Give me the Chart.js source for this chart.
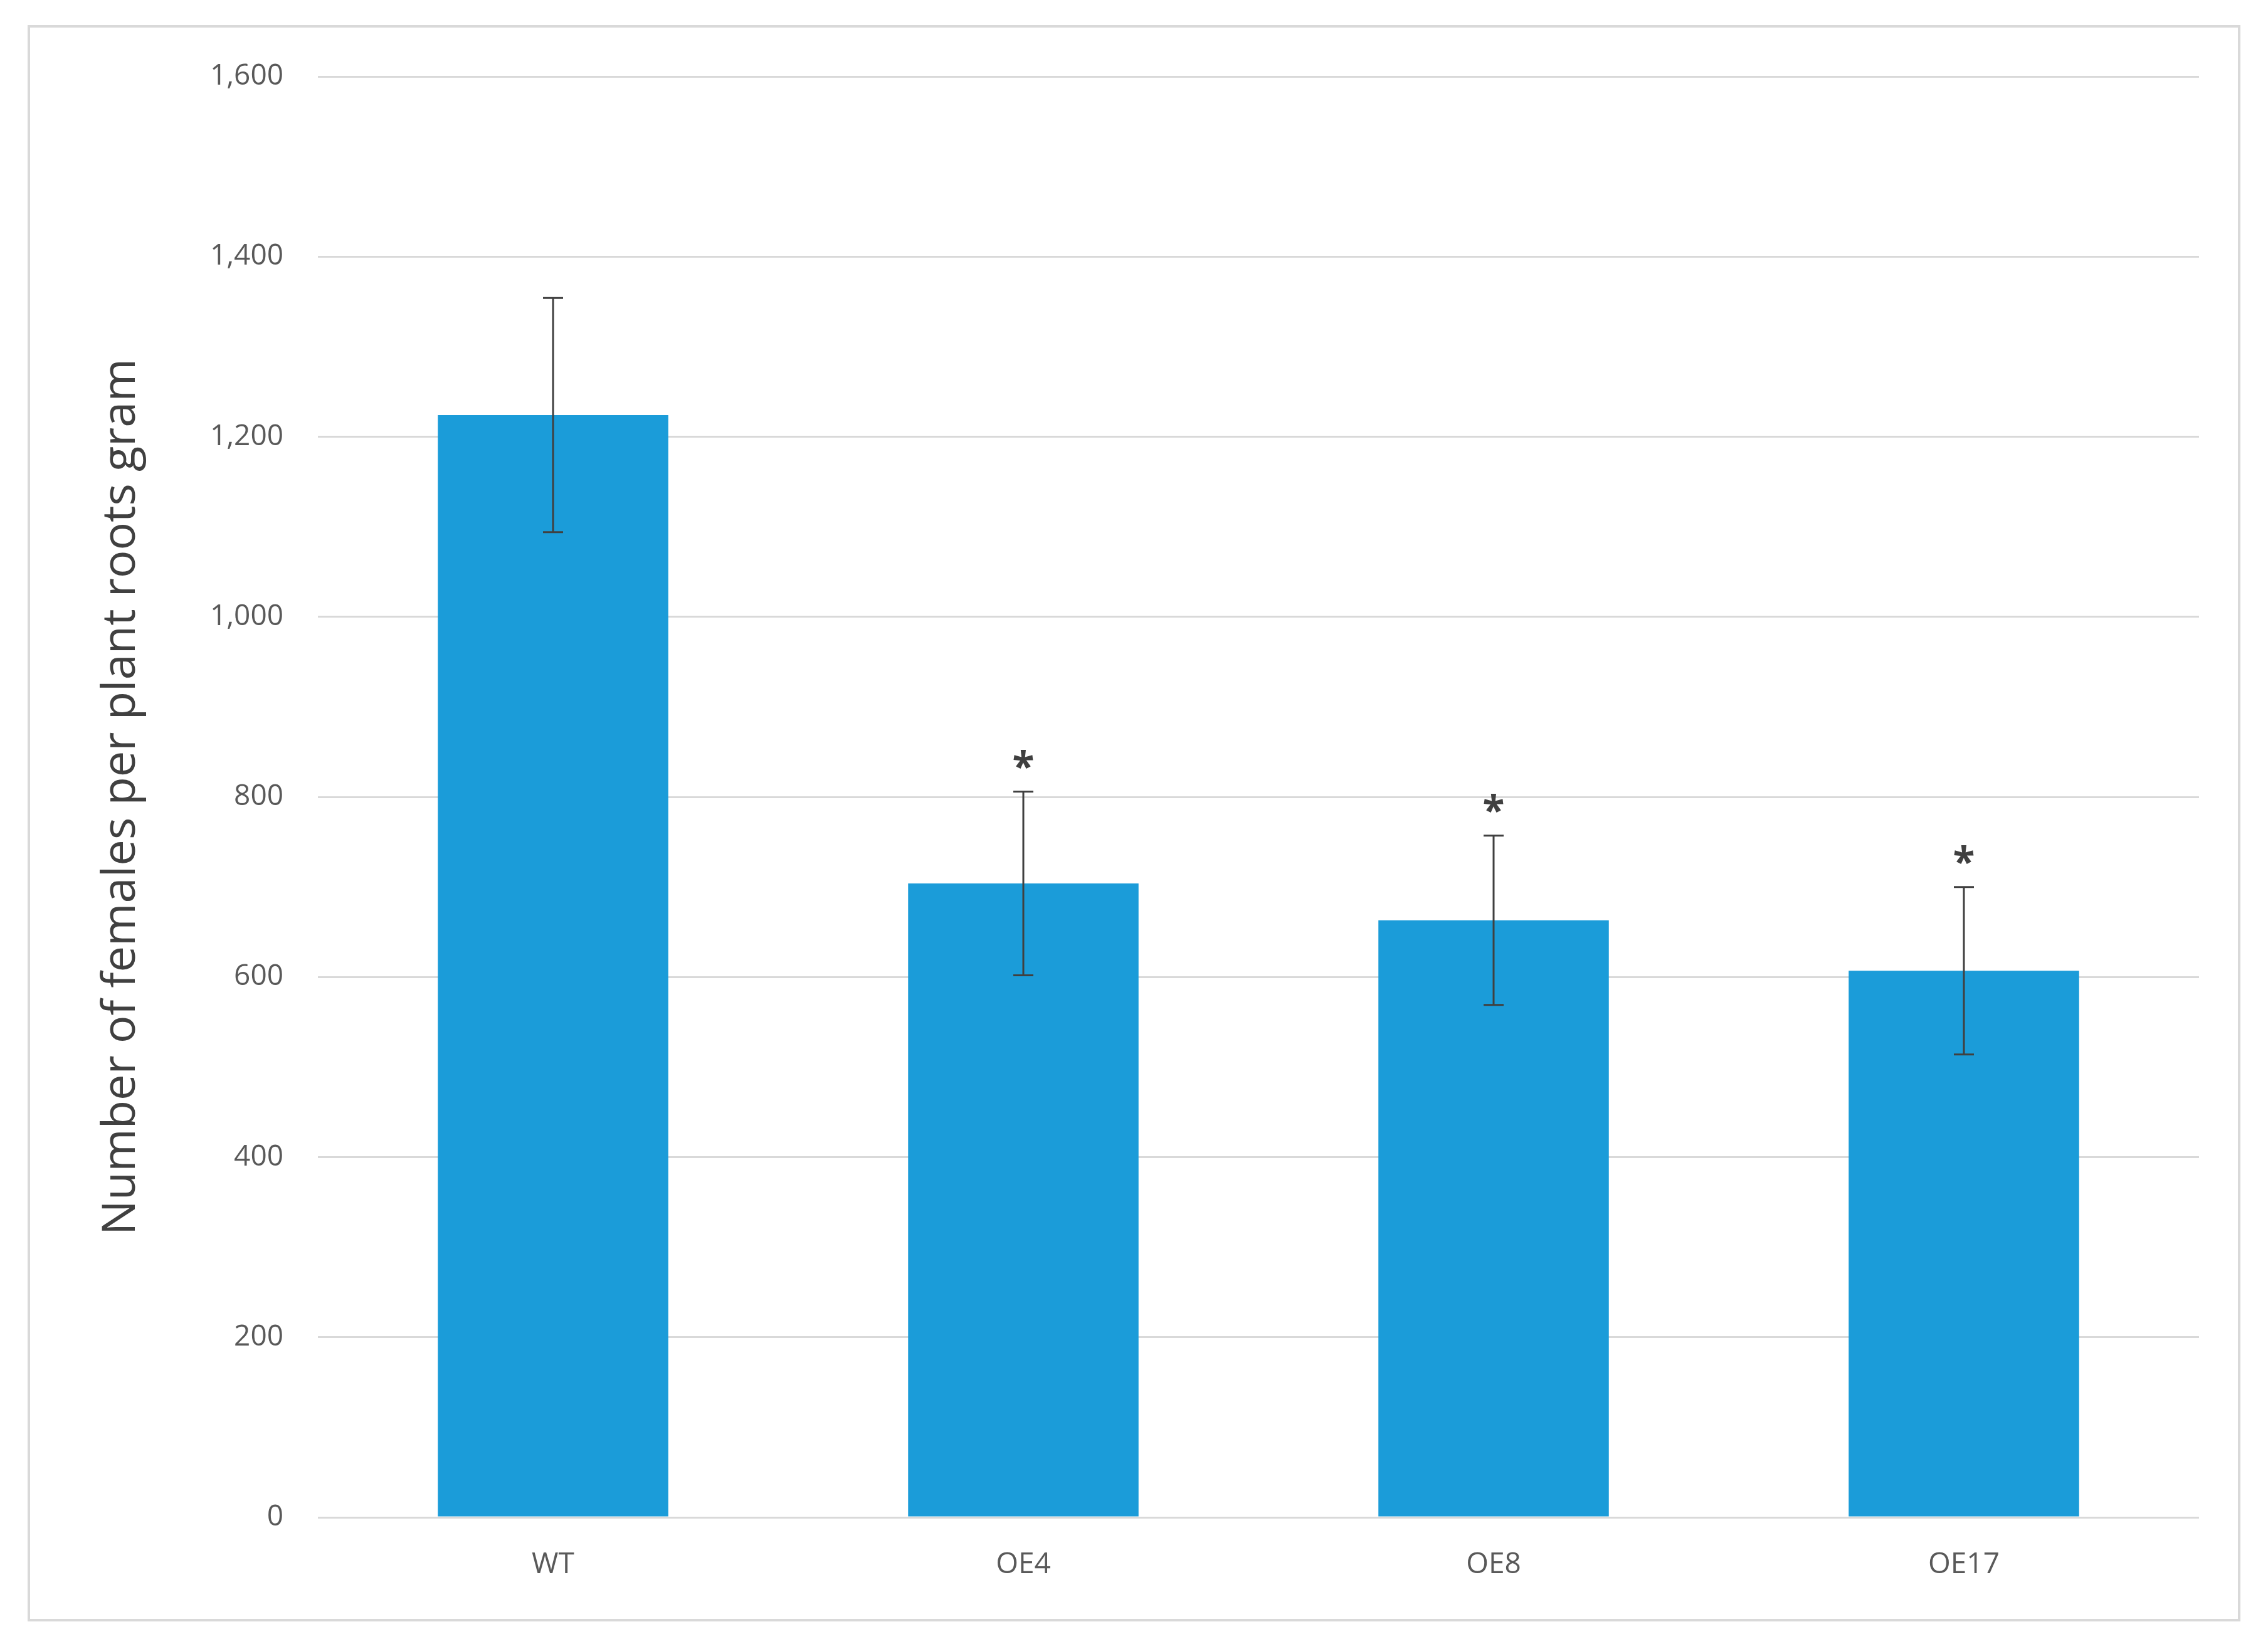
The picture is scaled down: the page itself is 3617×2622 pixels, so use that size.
<!DOCTYPE html>
<html>
<head>
<meta charset="utf-8">
<script src="https://cdn.jsdelivr.net/npm/chart.js@4/dist/chart.umd.min.js"></script>
<style>
  body{margin:0;background:#fff;}
  #wrap{width:3617px;height:2622px;position:relative;}
</style>
</head>
<body>
<div id="wrap"><canvas id="c" width="3617" height="2622"></canvas></div>
<script>
// data
const labels = ['WT', 'OE4', 'OE8', 'OE17'];
const means = [1224, 704, 663, 607];
const errs = [130, 102, 94, 93];
const stars = ['', '*', '*', '*'];

// frame around the figure
const framePlugin = {
    id: 'frame',
    beforeDraw(chart){
        const ctx = chart.ctx;
        ctx.save();
        ctx.strokeStyle = '#d9d9d9';
        ctx.lineWidth = 4;
        ctx.strokeRect(46, 42, 3525, 2542);
        ctx.restore();
    }
};

// error bars + significance stars
const errPlugin = {
    id: 'errbars',
    afterDatasetsDraw(chart){
        const ctx = chart.ctx;
        const y = chart.scales.y;
        const meta = chart.getDatasetMeta(0);
        ctx.save();
        ctx.strokeStyle = '#404040';
        ctx.lineWidth = 3;
        meta.data.forEach((bar, i) => {
            const x = bar.x;
            const top = y.getPixelForValue(means[i] + errs[i]);
            const bot = y.getPixelForValue(means[i] - errs[i]);
            ctx.beginPath();
            ctx.moveTo(x, top); ctx.lineTo(x, bot);
            ctx.moveTo(x - 16, top); ctx.lineTo(x + 16, top);
            ctx.moveTo(x - 16, bot); ctx.lineTo(x + 16, bot);
            ctx.stroke();
            if(stars[i]){
                ctx.fillStyle = '#404040';
                ctx.font = 'bold 64px "Open Sans", sans-serif';
                ctx.textAlign = 'center';
                ctx.textBaseline = 'bottom';
                ctx.fillText(stars[i], x, top - 4);
            }
        });
        ctx.restore();
    }
};

new Chart(document.getElementById('c'), {
    type: 'bar',
    data: {
        labels: labels,
        datasets: [{data: means, backgroundColor: '#1b9cd9', categoryPercentage: 1, barPercentage: 0.49}]
    },
    options: {
        responsive: false,
        devicePixelRatio: 1,
        animation: false,
        layout: {padding: {left: 150, right: 110, top: 122, bottom: 82}},
        plugins: {legend: {display: false}, tooltip: {enabled: false}},
        scales: {
            x: {
                grid: {display: false},
                border: {display: false},
                ticks: {color: '#595959', font: {size: 46, family: '"Open Sans", sans-serif'}, padding: 40},
                afterFit: s => { s.height = 120; }
            },
            y: {
                min: 0, max: 1600,
                ticks: {stepSize: 200, color: '#595959', font: {size: 46, family: '"Open Sans", sans-serif'}, padding: 55},
                grid: {color: '#d9d9d9', lineWidth: 3, drawTicks: false},
                border: {display: false},
                title: {display: true, text: 'Number of females per plant roots gram', color: '#404040',
                        font: {size: 74, family: '"Open Sans", sans-serif'}, padding: 0},
                afterFit: s => { s.width = 357; }
            }
        }
    },
    plugins: [framePlugin, errPlugin]
});
</script>
</body>
</html>
